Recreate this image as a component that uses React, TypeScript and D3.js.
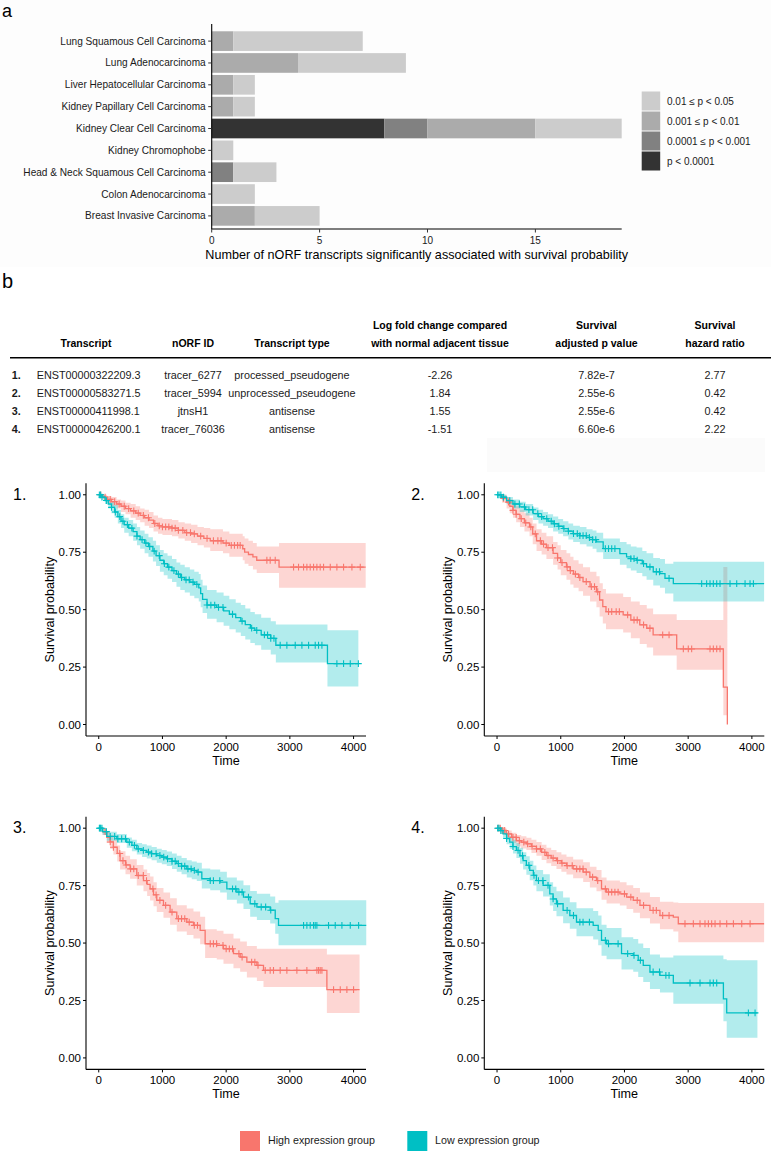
import React from "react";
import * as d3 from "d3";

// ---------- Panel a data ----------
const CANCERS = [
  "Lung Squamous Cell Carcinoma",
  "Lung Adenocarcinoma",
  "Liver Hepatocellular Carcinoma",
  "Kidney Papillary Cell Carcinoma",
  "Kidney Clear Cell Carcinoma",
  "Kidney Chromophobe",
  "Head & Neck Squamous Cell Carcinoma",
  "Colon Adenocarcinoma",
  "Breast Invasive Carcinoma",
];
const P_LT_00001 = [0, 0, 0, 0, 8, 0, 0, 0, 0];
const P_00001_0001 = [0, 0, 0, 0, 2, 0, 1, 0, 0];
const P_0001_001 = [1, 4, 1, 1, 5, 0, 0, 0, 2];
const P_001_005 = [6, 5, 1, 1, 4, 1, 2, 2, 3];
const STACK_KEYS = ["p4", "p3", "p2", "p1"]; // left to right
const LEGEND_LABELS = ["0.01 ≤ p < 0.05", "0.001 ≤ p < 0.01", "0.0001 ≤ p < 0.001", "p < 0.0001"];
const LEGEND_KEYS = ["p1", "p2", "p3", "p4"];
const GREYS: Record<string, string> = { p1: "#CCCCCC", p2: "#ABABAB", p3: "#818181", p4: "#333333" };
const X_TICKS_A = [0, 5, 10, 15];
const X_MAX_A = 19;

// ---------- Panel b table ----------
const HEAD_LINE1 = ["", "", "", "Log fold change compared", "Survival", "Survival"];
const HEAD_LINE2 = ["Transcript", "nORF ID", "Transcript type", "with normal adjacent tissue", "adjusted p value", "hazard ratio"];
const ROW_NUMS = ["1.", "2.", "3.", "4."];
const TRANSCRIPTS = ["ENST00000322209.3", "ENST00000583271.5", "ENST00000411998.1", "ENST00000426200.1"];
const NORF_IDS = ["tracer_6277", "tracer_5994", "jtnsH1", "tracer_76036"];
const TYPES = ["processed_pseudogene", "unprocessed_pseudogene", "antisense", "antisense"];
const LOG_FC = ["-2.26", "1.84", "1.55", "-1.51"];
const P_VALUES = ["7.82e-7", "2.55e-6", "2.55e-6", "6.60e-6"];
const HAZARD = ["2.77", "0.42", "0.42", "2.22"];

// ---------- KM data: [time, survival, lower, upper] ----------
type Step = [number, number, number | null, number | null];

const P1_HIGH: Step[] = [
  [0, 1, 1, 1], [60, .99, .98, 1], [130, .98, .965, .995], [200, .97, .95, .99], [280, .96, .94, .98],
  [350, .95, .925, .975], [420, .94, .915, .965], [500, .93, .9, .96], [580, .92, .89, .95], [650, .91, .88, .94],
  [720, .9, .865, .935], [790, .89, .855, .925], [860, .875, .84, .91], [930, .865, .83, .9], [1000, .86, .825, .895],
  [1150, .855, .82, .89], [1250, .845, .81, .88], [1350, .835, .8, .875], [1450, .83, .79, .87], [1550, .82, .78, .86],
  [1650, .81, .77, .855], [1750, .8, .755, .85], [1950, .79, .745, .84], [2050, .78, .73, .83], [2260, .765, .715, .82],
  [2290, .75, .7, .81], [2350, .74, .69, .8], [2420, .73, .675, .79], [2480, .715, .66, .775], [2830, .685, .595, .79],
];
const P1_HIGH_END = 4190;
const P1_HIGH_CENS = [30, 100, 180, 250, 320, 400, 470, 550, 620, 700, 780, 880, 950, 1000, 1050, 1100, 1150, 1200, 1250, 1320, 1380, 1440, 1500, 1600, 1700, 1800, 1870, 1920, 2000, 2080, 2130, 2180, 2220, 2639, 2691, 2770, 3058, 3136, 3215, 3267, 3319, 3372, 3424, 3476, 3529, 3634, 3738, 3843, 3974, 4105];

const P1_LOW: Step[] = [
  [0, 1, 1, 1], [50, .99, .98, 1], [100, .975, .96, .99], [150, .96, .94, .98], [200, .945, .92, .97],
  [250, .925, .9, .955], [300, .905, .875, .935], [350, .885, .855, .915], [400, .87, .835, .9], [470, .855, .82, .89],
  [540, .84, .8, .875], [600, .82, .78, .86], [650, .805, .765, .845], [720, .79, .745, .83], [780, .775, .73, .815],
  [850, .755, .71, .8], [900, .735, .69, .78], [960, .715, .665, .76], [1020, .7, .65, .745], [1080, .685, .635, .735],
  [1150, .67, .62, .72], [1220, .655, .6, .705], [1280, .64, .585, .695], [1350, .63, .575, .685], [1430, .62, .56, .675],
  [1500, .61, .55, .665], [1570, .595, .535, .655], [1600, .57, .51, .63], [1630, .545, .485, .605], [1700, .52, .46, .585],
  [1850, .51, .445, .575], [1960, .495, .43, .56], [2050, .48, .415, .545], [2150, .465, .4, .53], [2230, .45, .385, .52],
  [2300, .435, .37, .505], [2380, .42, .355, .49], [2450, .41, .345, .48], [2550, .39, .325, .465], [2700, .375, .305, .45],
  [2780, .345, .27, .435], [3590, .265, .165, .41],
];
const P1_LOW_END = 4075;
const P1_LOW_CENS = [10, 30, 50, 120, 200, 260, 330, 380, 450, 520, 600, 680, 740, 800, 870, 950, 1030, 1100, 1180, 1250, 1300, 1370, 1420, 1480, 1540, 1700, 1760, 1820, 1880, 1950, 2100, 2250, 2400, 2480, 2600, 2650, 2700, 2750, 2848, 2953, 3084, 3189, 3294, 3398, 3450, 3503, 3738, 3843, 3948, 4075];

const P2_HIGH: Step[] = [
  [0, 1, 1, 1], [80, .985, .965, 1], [150, .968, .94, .99], [200, .95, .92, .98], [250, .932, .9, .965],
  [300, .915, .88, .95], [360, .896, .86, .935], [430, .878, .84, .92], [510, .86, .82, .9], [560, .83, .785, .875],
  [620, .8, .755, .85], [700, .785, .74, .835], [775, .77, .72, .82], [880, .745, .695, .795], [950, .725, .675, .78],
  [1000, .705, .65, .76], [1090, .686, .63, .745], [1150, .67, .61, .73], [1200, .655, .595, .715], [1280, .64, .58, .7],
  [1350, .622, .56, .685], [1460, .6, .535, .665], [1560, .578, .51, .645], [1610, .542, .47, .615], [1660, .513, .44, .59],
  [1710, .491, .415, .57], [1980, .477, .4, .555], [2100, .455, .375, .535], [2240, .434, .35, .52], [2350, .419, .335, .505],
  [2450, .39, .3, .48], [2820, .329, .238, .455], [3552, .163, .04, .686], [3615, 0, null, null],
];
const P2_HIGH_END = 3615;
const P2_HIGH_CENS = [100, 180, 250, 300, 380, 450, 530, 600, 680, 730, 800, 870, 950, 1020, 1100, 1150, 1230, 1300, 1400, 1480, 1530, 1580, 1750, 1800, 1870, 1920, 2050, 2150, 2200, 2300, 2400, 2600, 2700, 2924, 3002, 3055, 3343, 3395, 3448, 3500];

const P2_LOW: Step[] = [
  [0, 1, 1, 1], [70, .99, .98, 1], [150, .975, .96, .99], [250, .96, .94, .98], [356, .947, .925, .97],
  [450, .935, .91, .96], [566, .918, .89, .945], [650, .905, .875, .935], [723, .896, .865, .925], [800, .885, .855, .915],
  [880, .874, .84, .905], [960, .863, .83, .895], [1037, .853, .82, .885], [1120, .842, .805, .875], [1195, .831, .795, .865],
  [1300, .822, .785, .86], [1404, .814, .775, .85], [1500, .805, .765, .845], [1561, .795, .75, .835], [1666, .766, .72, .81],
  [1928, .744, .695, .795], [2033, .73, .68, .785], [2100, .722, .67, .775], [2190, .715, .66, .77], [2280, .7, .645, .755],
  [2347, .686, .63, .745], [2452, .665, .605, .725], [2557, .657, .595, .72], [2636, .636, .57, .7], [2767, .613, .535, .708],
];
const P2_LOW_END = 4192;
const P2_LOW_CENS = [10, 30, 60, 100, 200, 280, 350, 430, 500, 560, 640, 700, 780, 850, 900, 970, 1050, 1120, 1200, 1260, 1300, 1350, 1400, 1450, 1500, 1550, 1700, 1750, 1800, 1850, 2100, 2150, 2200, 2300, 2400, 2500, 2550, 2700, 3212, 3290, 3343, 3395, 3448, 3500, 3657, 3762, 3893, 3971, 4024];

const P3_HIGH: Step[] = [
  [0, 1, 1, 1], [60, .985, .97, 1], [126, .96, .935, .985], [180, .94, .91, .97], [230, .917, .885, .95],
  [290, .89, .855, .925], [335, .859, .82, .9], [420, .84, .8, .88], [492, .823, .78, .865], [597, .794, .75, .84],
  [702, .772, .725, .82], [760, .755, .705, .805], [806, .736, .685, .79], [860, .71, .66, .765], [911, .686, .635, .74],
  [1016, .664, .61, .72], [1120, .635, .58, .695], [1225, .606, .55, .665], [1382, .591, .535, .65], [1487, .577, .52, .637],
  [1592, .555, .495, .615], [1670, .497, .435, .56], [1853, .49, .428, .553], [1958, .475, .41, .54], [2115, .454, .39, .52],
  [2220, .439, .375, .507], [2325, .417, .35, .487], [2482, .403, .335, .475], [2586, .381, .309, .475], [3581, .297, .196, .45],
];
const P3_HIGH_END = 4094;
const P3_HIGH_CENS = [100, 180, 230, 330, 380, 430, 500, 550, 620, 700, 750, 850, 900, 960, 1050, 1150, 1250, 1300, 1350, 1420, 1500, 1550, 1750, 1800, 1850, 1950, 2000, 2050, 2100, 2200, 2250, 2400, 2450, 2500, 2613, 2691, 2743, 2848, 2953, 3110, 3267, 3424, 3450, 3476, 3503, 3686, 3791, 3895, 4000];

const P3_LOW: Step[] = [
  [0, 1, 1, 1], [60, .985, .97, 1], [126, .964, .945, .985], [283, .954, .935, .975], [440, .939, .915, .96],
  [520, .925, .9, .95], [597, .91, .885, .935], [680, .903, .875, .93], [754, .896, .868, .925], [830, .889, .86, .918],
  [911, .881, .85, .91], [990, .874, .843, .905], [1068, .867, .835, .898], [1150, .856, .822, .89], [1225, .846, .81, .88],
  [1300, .835, .8, .87], [1382, .823, .785, .86], [1460, .816, .778, .855], [1539, .809, .77, .85], [1618, .78, .738, .825],
  [1750, .772, .73, .82], [1906, .765, .72, .81], [2011, .736, .688, .785], [2168, .722, .672, .772], [2272, .7, .648, .752],
  [2377, .671, .615, .727], [2482, .657, .6, .715], [2691, .643, .585, .703], [2770, .606, .54, .675], [2822, .577, .49, .686],
];
const P3_LOW_END = 4199;
const P3_LOW_CENS = [10, 20, 30, 50, 120, 180, 250, 300, 360, 420, 480, 560, 620, 700, 780, 830, 900, 960, 1020, 1080, 1150, 1200, 1250, 1300, 1350, 1400, 1450, 1500, 1560, 1750, 1800, 1900, 2100, 2150, 2200, 2250, 2350, 2450, 2550, 2620, 2700, 3215, 3267, 3319, 3372, 3398, 3424, 3607, 3712, 3817, 3948, 4079];

const P4_HIGH: Step[] = [
  [0, 1, 1, 1], [70, .99, .975, 1], [147, .975, .955, .99], [230, .96, .935, .98], [304, .946, .92, .97],
  [380, .939, .912, .965], [461, .932, .905, .958], [540, .921, .892, .95], [618, .91, .88, .94], [700, .895, .862, .928],
  [775, .881, .847, .915], [850, .87, .835, .905], [933, .859, .822, .895], [1010, .848, .81, .886], [1090, .837, .798, .876],
  [1195, .823, .782, .864], [1352, .809, .766, .852], [1457, .787, .742, .832], [1561, .772, .726, .818], [1640, .736, .688, .785],
  [1719, .722, .672, .772], [1928, .714, .663, .765], [2033, .7, .648, .752], [2138, .686, .632, .74], [2243, .664, .608, .72],
  [2400, .642, .585, .7], [2557, .62, .56, .68], [2767, .613, .55, .676], [2845, .584, .504, .674],
];
const P4_HIGH_END = 4192;
const P4_HIGH_CENS = [20, 50, 90, 120, 180, 250, 300, 350, 420, 480, 550, 620, 680, 750, 800, 880, 950, 1020, 1100, 1180, 1250, 1300, 1350, 1400, 1500, 1580, 1700, 1750, 1800, 1850, 1900, 2000, 2100, 2200, 2300, 2450, 2500, 2600, 2700, 2950, 3081, 3186, 3264, 3317, 3369, 3422, 3500, 3605, 3710, 3841, 3972];

const P4_LOW: Step[] = [
  [0, 1, 1, 1], [50, .99, .975, 1], [94, .975, .955, .99], [150, .955, .93, .98], [199, .939, .91, .965],
  [250, .92, .89, .95], [304, .903, .87, .935], [360, .88, .845, .915], [409, .859, .82, .895], [460, .838, .797, .878],
  [513, .816, .773, .858], [570, .795, .75, .838], [618, .772, .726, .818], [723, .751, .703, .799], [828, .714, .663, .765],
  [880, .692, .64, .745], [933, .671, .617, .725], [1037, .642, .586, .698], [1142, .62, .562, .678], [1247, .591, .53, .652],
  [1509, .577, .515, .64], [1588, .555, .49, .62], [1640, .512, .445, .58], [1719, .497, .43, .565], [1954, .454, .385, .525],
  [2138, .446, .375, .518], [2216, .425, .352, .498], [2295, .403, .33, .478], [2400, .374, .3, .45], [2557, .359, .285, .437],
  [2767, .326, .236, .446], [3553, .257, .16, .43], [3605, .196, .088, .425],
];
const P4_LOW_END = 4087;
const P4_LOW_CENS = [10, 30, 60, 150, 250, 330, 400, 500, 580, 650, 720, 800, 880, 950, 1100, 1200, 1300, 1350, 1450, 1700, 1750, 1900, 2050, 2150, 2250, 2450, 2550, 2650, 2700, 3029, 3186, 3343, 3395, 3448, 3945, 4050];

const KM_X_TICKS = [0, 1000, 2000, 3000, 4000];
const KM_Y_TICKS = [0, 0.25, 0.5, 0.75, 1];
const GROUPS = ["High expression group", "Low expression group"];
const GROUP_COLORS = ["#F8766D", "#00BFC4"];

const FONT = "'Liberation Sans', Arial, Helvetica, sans-serif";

type KMProps = {
  x0: number; y0: number; label: string;
  high: Step[]; highEnd: number; highCens: number[];
  low: Step[]; lowEnd: number; lowCens: number[];
};

function valueAt(steps: Step[], t: number) {
  const i = d3.bisector((d: Step) => d[0]).right(steps, t) - 1;
  return steps[Math.max(0, i)][1];
}

function KMPanel(p: KMProps) {
  const W = 280, H = 252.7;
  const x = d3.scaleLinear().domain([-200, 4195]).range([p.x0, p.x0 + W]);
  const y = d3.scaleLinear().domain([-0.05, 1.05]).range([p.y0 + H, p.y0]);
  const line = d3.line<[number, number]>().x(d => x(d[0])).y(d => y(d[1])).curve(d3.curveStepAfter);
  const area = d3.area<[number, number, number]>()
    .x(d => x(d[0])).y0(d => y(d[1])).y1(d => y(d[2])).curve(d3.curveStepAfter);

  const curves = [
    { steps: p.high, end: p.highEnd, cens: p.highCens, color: GROUP_COLORS[0] },
    { steps: p.low, end: p.lowEnd, cens: p.lowCens, color: GROUP_COLORS[1] },
  ];
  const bottom = p.y0 + H;
  return (
    <g>
      {curves.map((c, ci) => {
        const rib = c.steps.filter(d => d[2] != null).map(d => [d[0], d[2] as number, d[3] as number] as [number, number, number]);
        const firstNull = c.steps.find(d => d[2] == null);
        const rEnd = firstNull ? firstNull[0] : c.end;
        const last = rib[rib.length - 1];
        rib.push([rEnd, last[1], last[2]]);
        return <path key={"r" + ci} d={area(rib) || ""} fill={c.color} fillOpacity={0.3} stroke="none" />;
      })}
      {curves.map((c, ci) => {
        const pts = c.steps.map(d => [d[0], d[1]] as [number, number]);
        pts.push([c.end, c.steps[c.steps.length - 1][1]]);
        return (
          <g key={"l" + ci}>
            <path d={line(pts) || ""} fill="none" stroke={c.color} strokeWidth={1.3} />
            {c.cens.map((t, k) => {
              const cx = x(t), cy = y(valueAt(c.steps, t));
              return (
                <path key={k} d={`M${cx - 3.4},${cy}H${cx + 3.4}M${cx},${cy - 3.4}V${cy + 3.4}`}
                  stroke={c.color} strokeWidth={1.1} fill="none" />
              );
            })}
          </g>
        );
      })}
      {/* axes */}
      <line x1={p.x0} x2={p.x0} y1={p.y0} y2={bottom} stroke="#000" strokeWidth={1.1} />
      <line x1={p.x0} x2={p.x0 + W} y1={bottom} y2={bottom} stroke="#000" strokeWidth={1.1} />
      {KM_Y_TICKS.map(v => (
        <g key={"yt" + v}>
          <line x1={p.x0 - 3} x2={p.x0} y1={y(v)} y2={y(v)} stroke="#000" strokeWidth={1} />
          <text x={p.x0 - 5} y={y(v)} dy="0.35em" textAnchor="end" fontSize={11.5} fontFamily={FONT} fill="#000">{v.toFixed(2)}</text>
        </g>
      ))}
      {KM_X_TICKS.map(v => (
        <g key={"xt" + v}>
          <line x1={x(v)} x2={x(v)} y1={bottom} y2={bottom + 3} stroke="#000" strokeWidth={1} />
          <text x={x(v)} y={bottom + 14.8} textAnchor="middle" fontSize={11.5} fontFamily={FONT} fill="#000">{v}</text>
        </g>
      ))}
      <text x={p.x0 + W / 2} y={bottom + 28.5} textAnchor="middle" fontSize={12.6} fontFamily={FONT} fill="#000">Time</text>
      <text transform={`translate(${p.x0 - 32.5},${p.y0 + H / 2}) rotate(-90)`} textAnchor="middle" fontSize={12.6} fontFamily={FONT} fill="#000">Survival probability</text>
      <text x={p.x0 - 73} y={p.y0 + 16.5} fontSize={16} fontFamily={FONT} fill="#000">{p.label}</text>
    </g>
  );
}

function BarChart() {
  const left = 211.7, right = 621.7, top = 28, bottom = 229;
  const x = d3.scaleLinear().domain([0, X_MAX_A]).range([left, right]);
  const y = d3.scaleBand<string>().domain(CANCERS).range([top, bottom]).paddingInner(0.1).paddingOuter(0.15);
  const rows = CANCERS.map((c, i) => ({ cancer: c, p1: P_001_005[i], p2: P_0001_001[i], p3: P_00001_0001[i], p4: P_LT_00001[i] }));
  const series = d3.stack<any>().keys(STACK_KEYS)(rows);
  return (
    <g>
      <rect x={0} y={0} width={771} height={267} fill="#fdfdfd" />
      <text x={2} y={16.5} fontSize={18} fontFamily={FONT} fill="#000">a</text>
      {series.map(s => (
        <g key={s.key} fill={GREYS[s.key]}>
          {s.map((d: any, i: number) => d[1] - d[0] > 0 ? (
            <rect key={i} x={x(d[0])} y={y(d.data.cancer)} width={x(d[1]) - x(d[0])} height={y.bandwidth()} />
          ) : null)}
        </g>
      ))}
      <line x1={left} x2={left} y1={top - 4} y2={bottom} stroke="#000" strokeWidth={1.1} />
      <line x1={left} x2={right} y1={bottom} y2={bottom} stroke="#000" strokeWidth={1.1} />
      {CANCERS.map(c => {
        const cy = (y(c) as number) + y.bandwidth() / 2;
        return (
          <g key={c}>
            <line x1={left - 3.5} x2={left} y1={cy} y2={cy} stroke="#333" strokeWidth={1} />
            <text x={left - 6} y={cy} dy="0.35em" textAnchor="end" fontSize={10.1} fontFamily={FONT} fill="#1a1a1a">{c}</text>
          </g>
        );
      })}
      {X_TICKS_A.map(v => (
        <g key={v}>
          <line x1={x(v)} x2={x(v)} y1={bottom} y2={bottom + 3.5} stroke="#333" strokeWidth={1} />
          <text x={x(v)} y={bottom + 14.5} textAnchor="middle" fontSize={10} fontFamily={FONT} fill="#1a1a1a">{v}</text>
        </g>
      ))}
      <text x={(left + right) / 2} y={bottom + 29.5} textAnchor="middle" fontSize={12.6} fontFamily={FONT} fill="#000">
        Number of nORF transcripts significantly associated with survival probability
      </text>
      {LEGEND_KEYS.map((k, i) => (
        <g key={k}>
          <rect x={641.7} y={91.5 + i * 20} width={18.5} height={19} fill={GREYS[k]} />
          <text x={667} y={101 + i * 20} dy="0.35em" fontSize={10} fontFamily={FONT} fill="#1a1a1a">{LEGEND_LABELS[i]}</text>
        </g>
      ))}
    </g>
  );
}

function Table() {
  const colX = [86, 193, 292, 440, 596.5, 715];
  const rowY = [375.7, 393.3, 411, 429];
  const cols = [TRANSCRIPTS, NORF_IDS, TYPES, LOG_FC, P_VALUES, HAZARD];
  return (
    <g fontFamily={FONT}>
      <text x={2} y={288.3} fontSize={20} fill="#000">b</text>
      {colX.map((cx, i) => (
        <g key={i} fontWeight="bold" fontSize={10.5} fill="#000" textAnchor="middle">
          {HEAD_LINE1[i] ? <text x={cx} y={329.4}>{HEAD_LINE1[i]}</text> : null}
          <text x={cx} y={347}>{HEAD_LINE2[i]}</text>
        </g>
      ))}
      <line x1={10} x2={771} y1={357.7} y2={357.7} stroke="#000" strokeWidth={1.5} />
      {ROW_NUMS.map((n, r) => (
        <g key={r} fontSize={10.8} fill="#1a1a1a">
          <text x={11.7} y={rowY[r]} dy="0.35em" fontWeight="bold">{n}</text>
          <text x={36.7} y={rowY[r]} dy="0.35em">{cols[0][r]}</text>
          {cols.slice(1).map((col, c) => (
            <text key={c} x={colX[c + 1]} y={rowY[r]} dy="0.35em" textAnchor="middle">{col[r]}</text>
          ))}
        </g>
      ))}
      <rect x={487} y={438} width={278} height={34} fill="#fbfbfb" />
    </g>
  );
}

export default function App() {
  return (
    <svg width={771} height={1151} viewBox="0 0 771 1151"
      style={{ position: "absolute", left: 0, top: 0, display: "block", background: "#fff" }}>
      <rect x={0} y={0} width={771} height={1151} fill="#fff" />
      <BarChart />
      <Table />
      <KMPanel x0={86} y0={483.3} label="1." high={P1_HIGH} highEnd={P1_HIGH_END} highCens={P1_HIGH_CENS} low={P1_LOW} lowEnd={P1_LOW_END} lowCens={P1_LOW_CENS} />
      <KMPanel x0={484.3} y0={483.3} label="2." high={P2_HIGH} highEnd={P2_HIGH_END} highCens={P2_HIGH_CENS} low={P2_LOW} lowEnd={P2_LOW_END} lowCens={P2_LOW_CENS} />
      <KMPanel x0={86} y0={816.7} label="3." high={P3_HIGH} highEnd={P3_HIGH_END} highCens={P3_HIGH_CENS} low={P3_LOW} lowEnd={P3_LOW_END} lowCens={P3_LOW_CENS} />
      <KMPanel x0={484.3} y0={816.7} label="4." high={P4_HIGH} highEnd={P4_HIGH_END} highCens={P4_HIGH_CENS} low={P4_LOW} lowEnd={P4_LOW_END} lowCens={P4_LOW_CENS} />
      {GROUPS.map((g, i) => (
        <g key={g}>
          <rect x={240 + i * 167.3} y={1131} width={20} height={20} fill={GROUP_COLORS[i]} />
          <text x={268 + i * 167} y={1140.5} dy="0.35em" fontSize={10.7} fontFamily={FONT} fill="#1a1a1a">{g}</text>
        </g>
      ))}
    </svg>
  );
}
